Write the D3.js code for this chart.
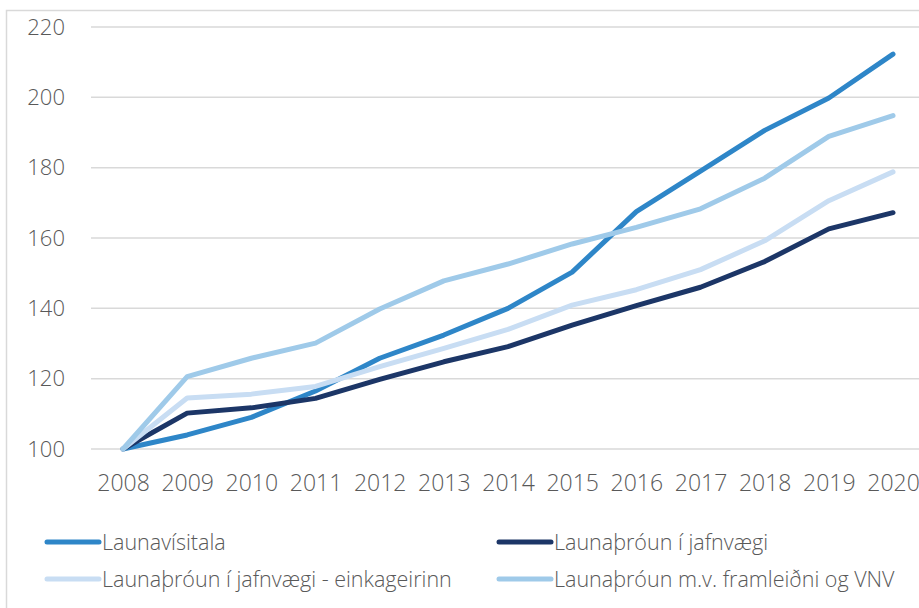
<!DOCTYPE html>
<html>
<head>
<meta charset="utf-8">
<script src="https://cdn.jsdelivr.net/npm/d3@7"></script>
<style>
  body { margin: 0; background: #fff; }
  svg text { font-family: "Open Sans", sans-serif; fill: #595959; }
</style>
</head>
<body>
<svg id="graf" width="919" height="608"></svg>
<script>
var ar = ["2008","2009","2010","2011","2012","2013","2014","2015","2016","2017","2018","2019","2020"];
var yTicks = [100, 120, 140, 160, 180, 200, 220];

var launavisitala = [100, 104, 109, 116.5, 125.8, 132.4, 140, 150.3, 167.5, 179, 190.6, 199.8, 212.3];
var jafnvaegi     = [100, 110.2, 111.7, 114.4, 119.8, 124.8, 129.1, 135.2, 140.8, 146, 153.3, 162.6, 167.2];
var einkageirinn  = [100, 114.5, 115.6, 117.8, 123.4, 128.6, 134, 140.9, 145.3, 151, 159.2, 170.6, 178.8];
var framleidni    = [100, 120.6, 125.8, 130.1, 139.8, 147.8, 152.6, 158.3, 163, 168.3, 177, 188.9, 194.8];

var rodir = [
  {nafn: "Launavísitala", gildi: launavisitala, litur: "#2e86c8"},
  {nafn: "Launaþróun í jafnvægi", gildi: jafnvaegi, litur: "#1c3667"},
  {nafn: "Launaþróun í jafnvægi - einkageirinn", gildi: einkageirinn, litur: "#c8ddf3"},
  {nafn: "Launaþróun m.v. framleiðni og VNV", gildi: framleidni, litur: "#9fcae9"}
];

var svg = d3.select("#graf");

// rammi
svg.append("path")
    .attr("d", "M6.5,608 V10.5 H919")
    .attr("fill", "none")
    .attr("stroke", "#d9d9d9")
    .attr("stroke-width", 1.5);

var x = d3.scalePoint().domain(ar).range([123, 893]);
var y = d3.scaleLinear().domain([100, 220]).range([449, 27]);

// gridlinur
svg.append("g")
    .selectAll("line")
    .data(yTicks)
    .enter().append("line")
    .attr("x1", 91).attr("x2", 919)
    .attr("y1", function(d) { return y(d); })
    .attr("y2", function(d) { return y(d); })
    .attr("stroke", "#d9d9d9")
    .attr("stroke-width", 1.5);

var yAxis = svg.append("g")
    .attr("transform", "translate(65,0)")
    .call(d3.axisLeft(y).tickValues(yTicks).tickSize(0).tickPadding(0));
yAxis.select(".domain").remove();
yAxis.selectAll("text")
    .attr("font-size", 22)
    .attr("font-weight", 300)
    .attr("font-family", "'Open Sans', sans-serif")
    .style("fill", "#595959");

var xAxis = svg.append("g")
    .attr("transform", "translate(0,475)")
    .call(d3.axisBottom(x).tickSize(0).tickPadding(0));
xAxis.select(".domain").remove();
xAxis.selectAll("text")
    .attr("font-size", 23)
    .attr("font-weight", 300)
    .attr("font-family", "'Open Sans', sans-serif")
    .style("fill", "#595959");

var lina = d3.line()
    .x(function(d, i) { return x(ar[i]); })
    .y(function(d) { return y(d); });

svg.append("g")
    .selectAll("path")
    .data(rodir)
    .enter().append("path")
    .attr("d", function(d) { return lina(d.gildi); })
    .attr("fill", "none")
    .attr("stroke", function(d) { return d.litur; })
    .attr("stroke-width", 5)
    .attr("stroke-linejoin", "round")
    .attr("stroke-linecap", "round");

// skyringar
var skyr = svg.append("g")
    .selectAll("g")
    .data(rodir)
    .enter().append("g")
    .attr("transform", function(d, i) {
        return "translate(" + (i % 2 ? 497 : 45) + "," + (i < 2 ? 542 : 579) + ")";
    });
skyr.append("line")
    .attr("x1", 2).attr("x2", 54)
    .attr("stroke", function(d) { return d.litur; })
    .attr("stroke-width", 5)
    .attr("stroke-linecap", "round");
skyr.append("text")
    .attr("x", 57)
    .attr("dy", "0.35em")
    .attr("font-size", 21.5)
    .attr("font-weight", 300)
    .text(function(d) { return d.nafn; });
</script>
</body>
</html>
